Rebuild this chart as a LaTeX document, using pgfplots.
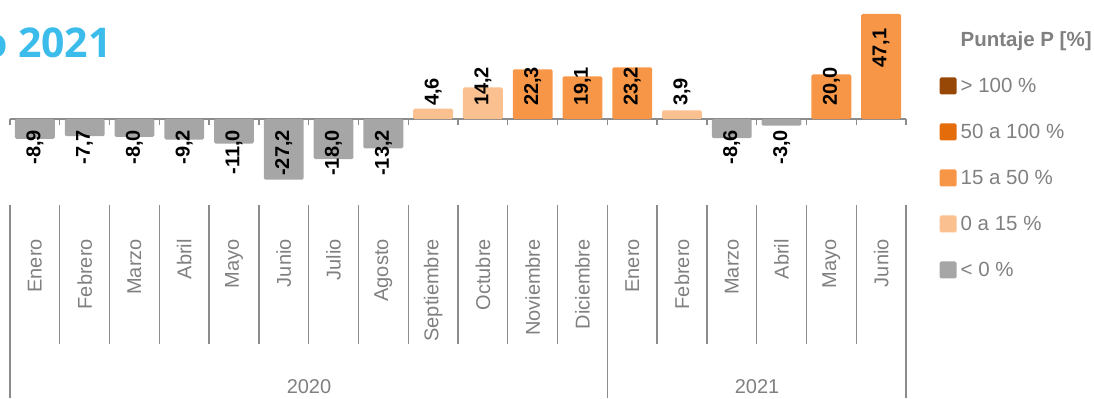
\documentclass[border=0pt]{standalone}
\usepackage{fontspec}
\setmainfont{Liberation Sans}
\newfontfamily\titlefont{Open Sans}
\usepackage{pgfplots}
\pgfplotsset{compat=1.18}
\definecolor{cgray}{HTML}{A6A6A6}
\definecolor{clight}{HTML}{FAC090}
\definecolor{corange}{HTML}{F79646}
\definecolor{cdark}{HTML}{E46C0A}
\definecolor{cbrown}{HTML}{974706}
\definecolor{ctext}{HTML}{808080}
\definecolor{cline}{HTML}{8C8C8C}
\definecolor{ctitle}{HTML}{3BBCEB}

\pgfplotstableread{
x y
0 -8.9
1 -7.7
2 -8.0
3 -9.2
4 -11.0
5 -27.2
6 -18.0
7 -13.2
14 -8.6
15 -3.0
}\neggray
\pgfplotstableread{
x y
8 4.6
9 14.2
13 3.9
}\poslight
\pgfplotstableread{
x y
10 22.3
11 19.1
12 23.2
16 20.0
17 47.1
}\posorange
\pgfplotstableread{
x ly lab
8 5.8 {4,6}
9 5.8 {14,2}
10 5.8 {22,3}
11 5.8 {19,1}
12 5.8 {23,2}
13 5.8 {3,9}
16 5.8 {20,0}
17 22.9 {47,1}
}\labpos
\pgfplotstableread{
x ly lab
0 -4.9 {-8,9}
1 -4.9 {-7,7}
2 -4.9 {-8,0}
3 -4.9 {-9,2}
4 -4.9 {-11,0}
5 -4.9 {-27,2}
6 -4.9 {-18,0}
7 -4.9 {-13,2}
14 -4.9 {-8,6}
15 -4.9 {-3,0}
}\labneg

\begin{document}
\begin{tikzpicture}[x=1bp,y=1bp]
\useasboundingbox (0,0) rectangle (1094,398);
\node[anchor=base east, font=\titlefont\bfseries\fontsize{41bp}{48bp}\selectfont, text=ctitle, inner sep=0pt] at (112,341) {o 2021};

\begin{axis}[
  at={(10bp,212.1bp)}, anchor=south west,
  scale only axis, width=896bp, height=178.4bp,
  xmin=-0.5, xmax=17.5, ymin=-30, ymax=50,
  clip=false,
  axis x line=middle, axis y line=none,
  x axis line style={-, cline, line width=1.3bp},
  xtick={0,...,17},
  major tick length=0pt,
  xticklabels={Enero,Febrero,Marzo,Abril,Mayo,Junio,Julio,Agosto,Septiembre,Octubre,Noviembre,Diciembre,Enero,Febrero,Marzo,Abril,Mayo,Junio},
  xticklabel style={rotate=90, anchor=east, font=\fontsize{20bp}{24bp}\selectfont, text=ctext, inner sep=0pt},
  xticklabel shift=120bp,
  extra x ticks={-0.5,0.5,...,17.5},
  extra x tick labels={},
  extra x tick style={major tick length=6bp, tick align=outside, tick style={cline, line width=1.3bp}},
  legend style={at={(axis description cs:1.0375,0.862)}, anchor=north west, draw=none, fill=none, inner sep=0pt, outer sep=0pt, row sep=29bp, font=\fontsize{20.5bp}{24bp}\selectfont, text=ctext, nodes={inner sep=0pt}, /tikz/every odd column/.append style={column sep=4bp}},
  legend cell align=left,
  legend image code/.code={\fill[#1, rounded corners=1.5bp] (0bp,-8.5bp) rectangle (17bp,8.5bp);},
]
\addlegendimage{empty legend}
\addlegendentry{\textbf{Puntaje P [\%]}}
\addlegendimage{fill=cbrown, draw=none}
\addlegendentry{> 100 \%}
\addlegendimage{fill=cdark, draw=none}
\addlegendentry{50 a 100 \%}
\addlegendimage{fill=corange, draw=none}
\addlegendentry{15 a 50 \%}
\addlegendimage{fill=clight, draw=none}
\addlegendentry{0 a 15 \%}
\addlegendimage{fill=cgray, draw=none}
\addlegendentry{< 0 \%}

\addplot[forget plot, ybar, bar width=0.8, bar shift=0pt, fill=cgray, draw=none, rounded corners=1.5bp] table[x=x,y=y] {\neggray};
\addplot[forget plot, ybar, bar width=0.8, bar shift=0pt, fill=clight, draw=none, rounded corners=1.5bp] table[x=x,y=y] {\poslight};
\addplot[forget plot, ybar, bar width=0.8, bar shift=0pt, fill=corange, draw=none, rounded corners=1.5bp] table[x=x,y=y] {\posorange};

\addplot[forget plot, only marks, mark=none, point meta=explicit symbolic, nodes near coords,
  every node near coord/.append style={rotate=90, anchor=west, font=\bfseries\fontsize{20bp}{24bp}\selectfont, inner sep=0pt, text=black}]
  table[x=x, y=ly, meta=lab] {\labpos};
\addplot[forget plot, only marks, mark=none, point meta=explicit symbolic, nodes near coords,
  every node near coord/.append style={rotate=90, anchor=east, font=\bfseries\fontsize{20bp}{24bp}\selectfont, inner sep=0pt, text=black}]
  table[x=x, y=ly, meta=lab] {\labneg};
\end{axis}

\foreach \k in {1,...,11,13,14,15,16,17}
  \draw[cline, line width=1.3bp] ({10+49.778*\k},193) -- ({10+49.778*\k},54);
\foreach \k in {0,12,18}
  \draw[cline, line width=1.3bp] ({10+49.778*\k},193) -- ({10+49.778*\k},0);
\node[anchor=base, font=\fontsize{20bp}{24bp}\selectfont, text=ctext, inner sep=0pt] at (309,4.5) {2020};
\node[anchor=base, font=\fontsize{20bp}{24bp}\selectfont, text=ctext, inner sep=0pt] at (757,4.5) {2021};
\end{tikzpicture}
\end{document}
